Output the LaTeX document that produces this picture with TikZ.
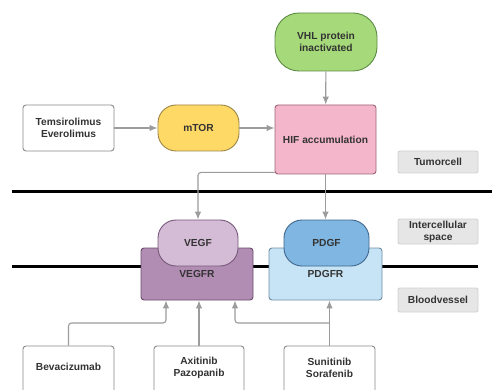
\documentclass[tikz,border=0pt]{standalone}
\usepackage{fontspec}
\setmainfont{Liberation Sans}
\usetikzlibrary{arrows.meta}
\definecolor{txt}{HTML}{333333}
\definecolor{boxgray}{HTML}{8A8A8A}
\definecolor{arrgray}{HTML}{9C9C9C}
\definecolor{taggray}{HTML}{E6E6E6}
\definecolor{tagborder}{HTML}{D2D2D2}
\definecolor{vhlfill}{HTML}{A5D97A}
\definecolor{vhldraw}{HTML}{5E8C45}
\definecolor{mtorfill}{HTML}{FFD966}
\definecolor{mtordraw}{HTML}{9C8545}
\definecolor{hiffill}{HTML}{F3B6CA}
\definecolor{hifdraw}{HTML}{9E6479}
\definecolor{vegffill}{HTML}{D5BCD6}
\definecolor{vegfdraw}{HTML}{75587A}
\definecolor{vegfrfill}{HTML}{B28DB3}
\definecolor{vegfrdraw}{HTML}{6B4C6C}
\definecolor{pdgffill}{HTML}{7FB6E2}
\definecolor{pdgfdraw}{HTML}{40678C}
\definecolor{pdgfrfill}{HTML}{C7E4F6}
\definecolor{pdgfrdraw}{HTML}{6E8DA3}
\begin{document}
\begin{tikzpicture}[x=1pt,y=-1pt,
  base/.style={draw, font=\bfseries\fontsize{10.2}{12}\selectfont, text=txt, align=center, inner sep=0pt, line width=0.9pt},
  whitebox/.style={base, fill=white, draw=boxgray, rounded corners=3pt},
  tagbox/.style={base, fill=taggray, draw=tagborder, rounded corners=2pt, minimum width=80pt},
  plain/.style={font=\bfseries\fontsize{10.2}{12}\selectfont, text=txt, align=center, inner sep=0pt},
  arr/.style={draw=arrgray, line width=1.1pt, -{Latex[length=8pt,width=6.5pt]}, rounded corners=3pt},
  membrane/.style={line width=3pt, black}
]
\useasboundingbox (0,0) rectangle (492,390);
\clip (0,0) rectangle (492,390);
\fill[white] (0,0) rectangle (492,390);

% membranes
\draw[membrane] (12,191) -- (492,191);
\draw[membrane] (12,266) -- (478,266);

% top part
\node[base, fill=vhlfill, draw=vhldraw, rounded corners=24pt, minimum width=102pt, minimum height=58pt] (vhl) at (326,42) {VHL protein\\inactivated};
\node[whitebox, minimum width=91pt, minimum height=46pt] (tem) at (68.5,128) {Temsirolimus\\Everolimus};
\node[base, fill=mtorfill, draw=mtordraw, rounded corners=18pt, minimum width=81pt, minimum height=46pt] (mtor) at (198.5,128) {mTOR};
\node[base, fill=hiffill, draw=hifdraw, rounded corners=3pt, minimum width=101pt, minimum height=69pt] (hif) at (325.5,139.5) {HIF accumulation};

% region tags
\node[tagbox, minimum height=22pt] (tumor) at (438,162) {Tumorcell};
\node[tagbox, minimum height=25pt] (inter) at (438,231.5) {Intercellular\\space};
\node[tagbox, minimum height=24pt] (blood) at (438,300) {Bloodvessel};

% receptors and ligands
\node[base, fill=vegfrfill, draw=vegfrdraw, rounded corners=3pt, minimum width=112pt, minimum height=52pt] (vegfr) at (197,274) {VEGFR};
\node[base, fill=pdgfrfill, draw=pdgfrdraw, rounded corners=3pt, minimum width=113pt, minimum height=52pt] (pdgfr) at (325.5,274) {PDGFR};
\node[base, fill=vegffill, draw=vegfdraw, rounded corners=18pt, minimum width=80pt, minimum height=46pt] (vegf) at (198,243) {VEGF};
\node[base, fill=pdgffill, draw=pdgfdraw, rounded corners=18pt, minimum width=85pt, minimum height=46pt] (pdgf) at (326.5,243) {PDGF};

% drug boxes (cut by the lower edge)
\node[whitebox, minimum width=91pt, minimum height=56pt] (bev) at (68.5,374) {};
\node[whitebox, minimum width=90pt, minimum height=56pt] (axi) at (199,374) {};
\node[whitebox, minimum width=91pt, minimum height=56pt] (sun) at (329.5,374) {};
\node[plain] (bevt) at (68.5,367) {Bevacizumab};
\node[plain] (axit) at (199,368) {Axitinib\\Pazopanib};
\node[plain] (sunt) at (329.5,368) {Sunitinib\\Sorafenib};

% connectors
\draw[arr] (tem) -- (mtor);
\draw[arr] (mtor.east) -- (mtor.east -| hif.west);
\draw[arr] (vhl) -- (hif);
\draw[arr] ([yshift=2pt]hif.south west) -| (vegf.north);
\draw[arr] (hif.south) -- (hif.south |- pdgf.north);

\coordinate (j1) at (166,323);
\coordinate (j2) at (235,323);
\draw[arr] (bev.north) |- (j1) -- (j1 |- vegfr.south);
\draw[arr] (axi.north) -- (axi.north |- vegfr.south);
\draw[arr] (sun.north) -- (sun.north |- pdgfr.south);
\draw[arr] (sun.north |- j2) -- (j2) -- (j2 |- vegfr.south);
\end{tikzpicture}
\end{document}
